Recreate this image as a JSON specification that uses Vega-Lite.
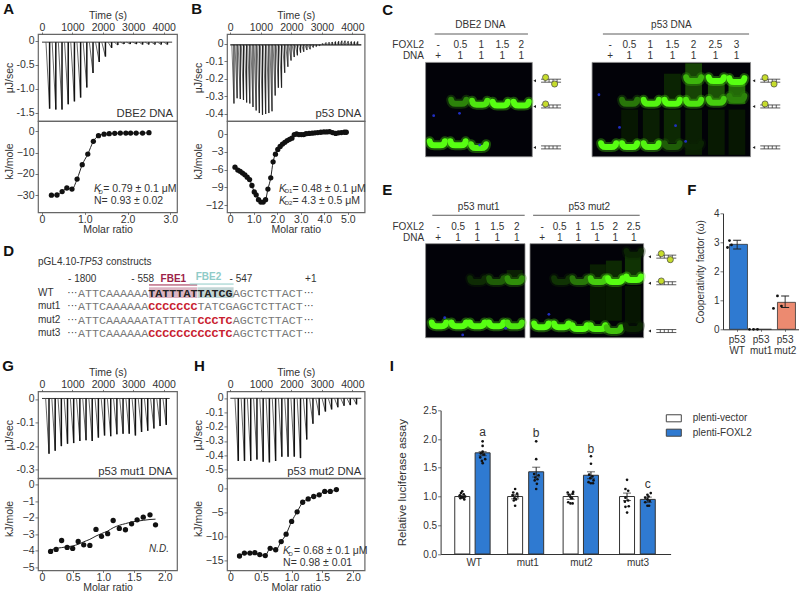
{"$schema":"https://vega.github.io/schema/vega-lite/v6.json","padding":{"left":1,"top":1,"right":0,"bottom":0},"background":"white",
"config":{"view":{"stroke":null},"font":"Liberation Sans","axis":{"domain":false,"grid":false,"tickSize":3,"tickColor":"#555","tickWidth":0.8,"labelFontSize":10.5,"titleFontSize":10.5,"labelColor":"#333","titleColor":"#333","titleFontWeight":"normal","labelPadding":1,"titlePadding":2},"axisTop":{"labelPadding":0,"tickSize":2,"titlePadding":2},"axisBottom":{"labelPadding":0,"tickSize":2,"titlePadding":0},"text":{"color":"#333","fontSize":10}},
"bounds":"flush","spacing":358.3,
"hconcat":[
{"bounds":"flush","spacing":178.7,"vconcat":[
 {"bounds":"flush","spacing":189,"hconcat":[
  {"bounds":"flush","spacing":0,"vconcat":[
   {"width":139,"height":87,"view":{"stroke":"#666","strokeWidth":1.2},
    "data":{"values":[{"t":250,"s":130,"d":-1.41},{"t":454,"s":334,"d":-1.43},{"t":658,"s":538,"d":-1.43},{"t":862,"s":742,"d":-1.32},{"t":1066,"s":946,"d":-1.26},{"t":1270,"s":1150,"d":-1.18},{"t":1474,"s":1354,"d":-0.97},{"t":1678,"s":1558,"d":-0.67},{"t":1882,"s":1762,"d":-0.44},{"t":2086,"s":1966,"d":-0.33},{"t":2290,"s":2170,"d":-0.15},{"t":2494,"s":2374,"d":-0.09},{"t":2698,"s":2578,"d":-0.07},{"t":2902,"s":2782,"d":-0.07},{"t":3106,"s":2986,"d":-0.07},{"t":3310,"s":3190,"d":-0.08},{"t":3514,"s":3394,"d":-0.08},{"t":3718,"s":3598,"d":-0.08},{"t":3922,"s":3802,"d":-0.08},{"t":4126,"s":4006,"d":-0.08}]},
    "encoding":{"x":{"field":"t","type":"quantitative","scale":{"domain":[-132,4440]},"axis":{"orient":"top","title":"Time (s)","values":[0,1000,2000,3000,4000],"format":"d"}},"y":{"field":"d","type":"quantitative","scale":{"domain":[-1.666,0.139]},"axis":{"title":"μJ/sec","titleX":-24,"values":[0,-0.5,-1,-1.5],"labelExpr":"datum.value==0?'0':replace(format(datum.value,'.1f'),'−','-')"}}},
    "layer":[
     {"data":{"values":[{"t":0,"s":4280,"d":-0.03}]},"mark":{"type":"rule","stroke":"#222","strokeWidth":0.9},"encoding":{"x2":{"field":"s"}}},
     {"mark":{"type":"rule","stroke":"#555","strokeWidth":0.9},"encoding":{"x2":{"field":"s"},"y2":{"datum":-0.03}}},
     {"mark":{"type":"rule","stroke":"#111","strokeWidth":1.5},"encoding":{"y2":{"datum":-0.03}}},
     {"data":{"values":[{"t":4309,"d":-1.52,"n":"DBE2 DNA"}]},"mark":{"type":"text","align":"right","fontSize":11.3},"encoding":{"text":{"field":"n"}}},
     {"data":{"values":[{"t":-1273,"d":0.554,"n":"A"}]},"mark":{"type":"text","align":"left","baseline":"alphabetic","fontSize":15,"fontWeight":"bold","color":"#111"},"encoding":{"text":{"field":"n"}}}]},
   {"width":139,"height":91.4,"view":{"stroke":"#666","strokeWidth":1.2},
    "data":{"values":[{"x":0.22,"y":-30.1},{"x":0.35,"y":-30},{"x":0.47,"y":-28.4},{"x":0.58,"y":-26.7},{"x":0.7,"y":-27.2},{"x":0.82,"y":-22.5},{"x":0.94,"y":-15.7},{"x":1.07,"y":-10.7},{"x":1.2,"y":-4.7},{"x":1.32,"y":-2},{"x":1.45,"y":-1.3},{"x":1.57,"y":-1.1},{"x":1.7,"y":-0.9},{"x":1.83,"y":-0.8},{"x":1.96,"y":-0.8},{"x":2.07,"y":-0.8},{"x":2.2,"y":-0.8},{"x":2.35,"y":-0.8},{"x":2.5,"y":-0.6}]},
    "encoding":{"x":{"field":"x","type":"quantitative","scale":{"domain":[-0.094,3.155]},"axis":{"title":"Molar ratio","values":[0,1,2,3],"labelExpr":"datum.value==0?'0':format(datum.value,'.1f')"}},"y":{"field":"y","type":"quantitative","scale":{"domain":[-38.2,4.9]},"axis":{"title":"kJ/mole","titleX":-24,"titleY":40,"values":[0,-10,-20,-30],"format":"d"}}},
    "layer":[
     {"mark":{"type":"line","stroke":"#222","strokeWidth":1,"interpolate":"monotone"}},
     {"mark":{"type":"point","filled":true,"fill":"#111","opacity":1,"size":28}},
     {"data":{"values":[{"x":1.43,"y":-27.2,"n":"= 0.79 ± 0.1 μM"},{"x":1.215,"y":-32.7,"n":"N= 0.93 ± 0.02"}]},"mark":{"type":"text","align":"left","fontSize":10.5},"encoding":{"text":{"field":"n"}}},
     {"data":{"values":[{"x":1.215,"y":-27.2,"n":"K"}]},"mark":{"type":"text","align":"left","fontSize":10.5,"fontStyle":"italic"},"encoding":{"text":{"field":"n"}}},
     {"data":{"values":[{"x":1.32,"y":-28.6,"n":"D"}]},"mark":{"type":"text","align":"left","fontSize":6},"encoding":{"text":{"field":"n"}}}]}]},
  {"bounds":"flush","spacing":0,"vconcat":[
   {"width":137.6,"height":87,"view":{"stroke":"#666","strokeWidth":1.2},
    "data":{"values":[{"t":120,"s":50,"d":-0.34},{"t":224,"s":154,"d":-0.31},{"t":328,"s":258,"d":-0.315},{"t":432,"s":362,"d":-0.32},{"t":536,"s":466,"d":-0.335},{"t":640,"s":570,"d":-0.34},{"t":744,"s":674,"d":-0.36},{"t":848,"s":778,"d":-0.38},{"t":952,"s":882,"d":-0.395},{"t":1056,"s":986,"d":-0.405},{"t":1160,"s":1090,"d":-0.4},{"t":1264,"s":1194,"d":-0.395},{"t":1368,"s":1298,"d":-0.385},{"t":1472,"s":1402,"d":-0.295},{"t":1576,"s":1506,"d":-0.25},{"t":1680,"s":1610,"d":-0.25},{"t":1784,"s":1714,"d":-0.165},{"t":1888,"s":1818,"d":-0.13},{"t":1992,"s":1922,"d":-0.095},{"t":2096,"s":2026,"d":-0.075},{"t":2200,"s":2130,"d":-0.065},{"t":2304,"s":2234,"d":-0.05},{"t":2408,"s":2338,"d":-0.045},{"t":2512,"s":2442,"d":-0.035},{"t":2616,"s":2546,"d":-0.03},{"t":2720,"s":2650,"d":-0.02},{"t":2824,"s":2754,"d":-0.015},{"t":2928,"s":2858,"d":-0.01},{"t":3032,"s":2962,"d":0.003},{"t":3136,"s":3066,"d":0.008},{"t":3240,"s":3170,"d":0.01},{"t":3344,"s":3274,"d":0.012},{"t":3448,"s":3378,"d":0.014},{"t":3552,"s":3482,"d":0.016},{"t":3656,"s":3586,"d":0.018},{"t":3760,"s":3690,"d":0.018},{"t":3864,"s":3794,"d":0.016},{"t":3968,"s":3898,"d":0.014},{"t":4072,"s":4002,"d":0.014},{"t":4176,"s":4106,"d":0.014}]},
    "encoding":{"x":{"field":"t","type":"quantitative","scale":{"domain":[-108,4403]},"axis":{"orient":"top","title":"Time (s)","values":[0,1000,2000,3000,4000],"format":"d"}},"y":{"field":"d","type":"quantitative","scale":{"domain":[-0.44,0.057]},"axis":{"title":"μJ/sec","titleX":-24,"values":[0,-0.1,-0.2,-0.3,-0.4],"labelExpr":"datum.value==0?'0':replace(format(datum.value,'.1f'),'−','-')"}}},
    "layer":[
     {"data":{"values":[{"t":0,"s":4295,"d":-0.005}]},"mark":{"type":"rule","stroke":"#111","strokeWidth":1.2},"encoding":{"x2":{"field":"s"}}},
     {"mark":{"type":"rule","stroke":"#666","strokeWidth":0.9},"encoding":{"x2":{"field":"s"},"y2":{"datum":-0.005}}},
     {"mark":{"type":"rule","stroke":"#222","strokeWidth":1.2},"encoding":{"y2":{"datum":-0.005}}},
     {"data":{"values":[{"t":4295,"d":-0.4,"n":"p53 DNA"}]},"mark":{"type":"text","align":"right","fontSize":11.3},"encoding":{"text":{"field":"n"}}},
     {"data":{"values":[{"t":-1279,"d":0.171,"n":"B"}]},"mark":{"type":"text","align":"left","baseline":"alphabetic","fontSize":15,"fontWeight":"bold","color":"#111"},"encoding":{"text":{"field":"n"}}}]},
   {"width":137.6,"height":91.4,"view":{"stroke":"#666","strokeWidth":1.2},
    "data":{"values":[{"x":0.2,"y":-5.6},{"x":0.32,"y":-6.1},{"x":0.42,"y":-6.3},{"x":0.52,"y":-6.6},{"x":0.62,"y":-6.9},{"x":0.72,"y":-7.3},{"x":0.82,"y":-7.7},{"x":0.92,"y":-8.7},{"x":1.02,"y":-9.8},{"x":1.1,"y":-10.3},{"x":1.2,"y":-11.1},{"x":1.3,"y":-11.5},{"x":1.4,"y":-11.5},{"x":1.5,"y":-11.1},{"x":1.6,"y":-9.3},{"x":1.72,"y":-7.4},{"x":1.82,"y":-4.7},{"x":1.92,"y":-3.4},{"x":2.02,"y":-2.6},{"x":2.12,"y":-2.1},{"x":2.22,"y":-1.7},{"x":2.32,"y":-1.4},{"x":2.42,"y":-1.1},{"x":2.52,"y":-0.9},{"x":2.62,"y":-0.7},{"x":2.72,"y":-0.1},{"x":2.82,"y":0},{"x":2.92,"y":-0.1},{"x":3.02,"y":-0.1},{"x":3.12,"y":-0.1},{"x":3.22,"y":0.05},{"x":3.35,"y":0.1},{"x":3.48,"y":0.15},{"x":3.6,"y":0.2},{"x":3.72,"y":0.25},{"x":3.85,"y":0.3},{"x":3.98,"y":0.35},{"x":4.1,"y":0.35},{"x":4.22,"y":0.4},{"x":4.35,"y":0.25},{"x":4.48,"y":0.1},{"x":4.6,"y":0.2},{"x":4.72,"y":0.25},{"x":4.85,"y":0.3},{"x":4.93,"y":0.3}]},
    "encoding":{"x":{"field":"x","type":"quantitative","scale":{"domain":[-0.14,5.71]},"axis":{"title":"Molar ratio","values":[0,1,2,3,4,5],"labelExpr":"datum.value==0?'0':format(datum.value,'.1f')"}},"y":{"field":"y","type":"quantitative","scale":{"domain":[-13.25,2.2]},"axis":{"title":"kJ/mole","titleX":-24,"titleY":40,"values":[0,-3,-6,-9,-12],"format":"d"}}},
    "layer":[
     {"mark":{"type":"line","stroke":"#222","strokeWidth":1,"interpolate":"monotone"}},
     {"mark":{"type":"point","filled":true,"fill":"#111","opacity":1,"size":28}},
     {"data":{"values":[{"x":2.64,"y":-9.3,"n":"= 0.48 ± 0.1 μM"},{"x":2.64,"y":-11.27,"n":"= 4.3 ± 0.5 μM"}]},"mark":{"type":"text","align":"left","fontSize":10.5},"encoding":{"text":{"field":"n"}}},
     {"data":{"values":[{"x":2.07,"y":-9.3,"n":"K"},{"x":2.07,"y":-11.27,"n":"K"}]},"mark":{"type":"text","align":"left","fontSize":10.5,"fontStyle":"italic"},"encoding":{"text":{"field":"n"}}},
     {"data":{"values":[{"x":2.31,"y":-9.7,"n":"D1"},{"x":2.31,"y":-11.67,"n":"D2"}]},"mark":{"type":"text","align":"left","fontSize":6},"encoding":{"text":{"field":"n"}}}]}]}]},
 {"bounds":"flush","spacing":48.7,"vconcat":[
  {"width":300,"height":130,
   "encoding":{"x":{"field":"p","type":"quantitative","scale":{"domain":[-5.69,36.98]},"axis":null},"y":{"field":"r","type":"quantitative","scale":{"domain":[3.73,-6.02]},"axis":null}},
   "layer":[
    {"data":{"values":[{"p":10.1,"p2":16.95,"r":-0.42,"r2":0.37}]},"mark":{"type":"rect","fill":"#dcb5c3"},"encoding":{"x2":{"field":"p2"},"y2":{"field":"r2"}}},
    {"data":{"values":[{"p":17.0,"p2":22.13,"r":-0.42,"r2":0.37}]},"mark":{"type":"rect","fill":"#c2d6d6"},"encoding":{"x2":{"field":"p2"},"y2":{"field":"r2"}}},
    {"data":{"values":[{"p":10.1,"p2":16.95,"r":-0.6}]},"mark":{"type":"rule","stroke":"#9c2248","strokeWidth":1},"encoding":{"x2":{"field":"p2"}}},
    {"data":{"values":[{"p":15.88,"p2":22.13,"r":-0.67}]},"mark":{"type":"rule","stroke":"#8fcbc7","strokeWidth":1},"encoding":{"x2":{"field":"p2"}}},
    {"data":{"values":[{"p":-10.63,"r":-2.8,"n":"D"}]},"mark":{"type":"text","align":"left","baseline":"alphabetic","fontSize":15,"fontWeight":"bold","color":"#111"},"encoding":{"text":{"field":"n"}}},
    {"data":{"values":[{"p":-5.69,"r":-2.3,"n":"pGL4.10-"},{"p":3.98,"r":-2.3,"n":"constructs"},{"p":-1.42,"r":-1.05,"n":"- 1800"},{"p":7.58,"r":-1.05,"n":"- 558"},{"p":21.56,"r":-1.05,"n":"- 547"},{"p":32.3,"r":-1.05,"n":"+1"},{"p":-5.69,"r":0,"n":"WT"},{"p":-5.69,"r":1,"n":"mut1"},{"p":-5.69,"r":2,"n":"mut2"},{"p":-5.69,"r":3,"n":"mut3"},{"p":-1.52,"r":0,"n":"···"},{"p":-1.52,"r":1,"n":"···"},{"p":-1.52,"r":2,"n":"···"},{"p":-1.52,"r":3,"n":"···"},{"p":32.1,"r":0,"n":"···"},{"p":32.1,"r":1,"n":"···"},{"p":32.1,"r":2,"n":"···"},{"p":32.1,"r":3,"n":"···"}]},"mark":{"type":"text","align":"left","fontSize":10},"encoding":{"text":{"field":"n"}}},
    {"data":{"values":[{"p":0.1,"r":-2.3,"n":"TP53"}]},"mark":{"type":"text","align":"left","fontSize":10,"fontStyle":"italic"},"encoding":{"text":{"field":"n"}}},
    {"data":{"values":[{"p":11.75,"r":-1.05,"n":"FBE1"}]},"mark":{"type":"text","align":"left","fontSize":10,"fontWeight":"bold","color":"#9c2248"},"encoding":{"text":{"field":"n"}}},
    {"data":{"values":[{"p":16.73,"r":-1.17,"n":"FBE2"}]},"mark":{"type":"text","align":"left","fontSize":10,"fontWeight":"bold","color":"#8fcbc7"},"encoding":{"text":{"field":"n"}}},
    {"data":{"values":[{"p":0,"r":0,"n":"ATTCAAAAAA"},{"p":22,"r":0,"n":"AGCTCTTACT"},{"p":0,"r":1,"n":"ATTCAAAAAA"},{"p":17,"r":1,"n":"TATCGAGCTCTTACT"},{"p":0,"r":2,"n":"ATTCAAAAAATATTTAT"},{"p":22,"r":2,"n":"AGCTCTTACT"},{"p":0,"r":3,"n":"ATTCAAAAAA"},{"p":22,"r":3,"n":"AGCTCTTACT"}]},"mark":{"type":"text","align":"left","font":"Liberation Mono","fontSize":11.7,"color":"#777"},"encoding":{"text":{"field":"n"}}},
    {"data":{"values":[{"p":10,"r":0,"n":"TATTTATTATCG"}]},"mark":{"type":"text","align":"left","font":"Liberation Mono","fontWeight":"bold","fontSize":11.7,"color":"#222"},"encoding":{"text":{"field":"n"}}},
    {"data":{"values":[{"p":10,"r":1,"n":"CCCCCCC"},{"p":17,"r":2,"n":"CCCTC"},{"p":10,"r":3,"n":"CCCCCCCCCCTC"}]},"mark":{"type":"text","align":"left","font":"Liberation Mono","fontWeight":"bold","fontSize":11.7,"color":"#c8202f"},"encoding":{"text":{"field":"n"}}}]},
  {"bounds":"flush","spacing":189,"hconcat":[
   {"bounds":"flush","spacing":0,"vconcat":[
    {"width":139,"height":86.6,"view":{"stroke":"#666","strokeWidth":1.2},
     "data":{"values":[{"t":230,"s":120,"d":-0.232},{"t":433,"s":323,"d":-0.22},{"t":636,"s":526,"d":-0.2},{"t":839,"s":729,"d":-0.19},{"t":1042,"s":932,"d":-0.187},{"t":1245,"s":1135,"d":-0.178},{"t":1448,"s":1338,"d":-0.175},{"t":1651,"s":1541,"d":-0.178},{"t":1854,"s":1744,"d":-0.164},{"t":2057,"s":1947,"d":-0.155},{"t":2260,"s":2150,"d":-0.158},{"t":2463,"s":2353,"d":-0.15},{"t":2666,"s":2556,"d":-0.148},{"t":2869,"s":2759,"d":-0.147},{"t":3072,"s":2962,"d":-0.155},{"t":3275,"s":3165,"d":-0.14},{"t":3478,"s":3368,"d":-0.135},{"t":3681,"s":3571,"d":-0.125},{"t":3884,"s":3774,"d":-0.115},{"t":4087,"s":3977,"d":-0.11}]},
     "encoding":{"x":{"field":"t","type":"quantitative","scale":{"domain":[-132,4440]},"axis":{"orient":"top","title":"Time (s)","values":[0,1000,2000,3000,4000],"format":"d"}},"y":{"field":"d","type":"quantitative","scale":{"domain":[-0.335,0.032]},"axis":{"title":"μJ/sec","titleX":-24,"values":[0,-0.1,-0.2,-0.3],"labelExpr":"datum.value==0?'0':replace(format(datum.value,'.1f'),'−','-')"}}},
     "layer":[
      {"data":{"values":[{"t":0,"s":4200,"d":0.002}]},"mark":{"type":"rule","stroke":"#222","strokeWidth":0.9},"encoding":{"x2":{"field":"s"}}},
      {"mark":{"type":"rule","stroke":"#555","strokeWidth":0.9},"encoding":{"x2":{"field":"s"},"y2":{"datum":0.002}}},
      {"mark":{"type":"rule","stroke":"#111","strokeWidth":1.5},"encoding":{"y2":{"datum":0.002}}},
      {"data":{"values":[{"t":4286,"d":-0.308,"n":"p53 mut1 DNA"}]},"mark":{"type":"text","align":"right","fontSize":11.3},"encoding":{"text":{"field":"n"}}},
      {"data":{"values":[{"t":-1306,"d":0.12,"n":"G"}]},"mark":{"type":"text","align":"left","baseline":"alphabetic","fontSize":15,"fontWeight":"bold","color":"#111"},"encoding":{"text":{"field":"n"}}}]},
    {"width":139,"height":92,"view":{"stroke":"#666","strokeWidth":1.2},
     "data":{"values":[{"x":0.14,"y":-4.03,"f":-3.95},{"x":0.23,"y":-3.91,"f":-3.85},{"x":0.32,"y":-3.37,"f":-3.8},{"x":0.41,"y":-3.79,"f":-3.75},{"x":0.5,"y":-3.85,"f":-3.7},{"x":0.59,"y":-3.43,"f":-3.6},{"x":0.68,"y":-3.63,"f":-3.45},{"x":0.78,"y":-3.67,"f":-3.3},{"x":0.88,"y":-2.7,"f":-3.1},{"x":0.97,"y":-3.12,"f":-2.95},{"x":1.07,"y":-2.96,"f":-2.8},{"x":1.16,"y":-2.16,"f":-2.6},{"x":1.26,"y":-2.64,"f":-2.45},{"x":1.36,"y":-2.72,"f":-2.35},{"x":1.46,"y":-2.36,"f":-2.25},{"x":1.55,"y":-2.12,"f":-2.2},{"x":1.65,"y":-1.96,"f":-2.15},{"x":1.76,"y":-1.82,"f":-2.1},{"x":1.85,"y":-2.42,"f":-2.08}]},
     "encoding":{"x":{"field":"x","type":"quantitative","scale":{"domain":[-0.065,2.2]},"axis":{"title":"Molar ratio","values":[0,0.5,1,1.5,2],"labelExpr":"datum.value==0?'0':format(datum.value,'.1f')"}},"y":{"field":"y","type":"quantitative","scale":{"domain":[-5.18,0.387]},"axis":{"title":"kJ/mole","titleX":-24,"titleY":40,"values":[0,-1,-2,-3,-4,-5],"format":"d"}}},
     "layer":[
      {"mark":{"type":"line","stroke":"#222","strokeWidth":1,"interpolate":"monotone"},"encoding":{"y":{"field":"f","type":"quantitative","scale":{"domain":[-5.18,0.387]}}}},
      {"mark":{"type":"point","filled":true,"fill":"#111","opacity":1,"size":28}},
      {"data":{"values":[{"x":2.07,"y":-3.9,"n":"N.D."}]},"mark":{"type":"text","align":"right","fontSize":10,"fontStyle":"italic"},"encoding":{"text":{"field":"n"}}}]}]},
   {"bounds":"flush","spacing":0,"vconcat":[
    {"width":137.6,"height":86.6,"view":{"stroke":"#666","strokeWidth":1.2},
     "data":{"values":[{"t":262,"s":152,"d":-0.44},{"t":466,"s":356,"d":-0.44},{"t":670,"s":560,"d":-0.44},{"t":874,"s":764,"d":-0.43},{"t":1078,"s":968,"d":-0.445},{"t":1282,"s":1172,"d":-0.45},{"t":1486,"s":1376,"d":-0.44},{"t":1690,"s":1580,"d":-0.41},{"t":1894,"s":1784,"d":-0.41},{"t":2098,"s":1988,"d":-0.41},{"t":2302,"s":2192,"d":-0.42},{"t":2506,"s":2396,"d":-0.29},{"t":2710,"s":2600,"d":-0.18},{"t":2914,"s":2804,"d":-0.12},{"t":3118,"s":3008,"d":-0.095},{"t":3322,"s":3212,"d":-0.08},{"t":3526,"s":3416,"d":-0.065},{"t":3730,"s":3620,"d":-0.055},{"t":3934,"s":3824,"d":-0.05},{"t":4138,"s":4028,"d":-0.045}]},
     "encoding":{"x":{"field":"t","type":"quantitative","scale":{"domain":[-108,4403]},"axis":{"orient":"top","title":"Time (s)","values":[0,1000,2000,3000,4000],"format":"d"}},"y":{"field":"d","type":"quantitative","scale":{"domain":[-0.559,0.046]},"axis":{"title":"μJ/sec","titleX":-24,"values":[0,-0.1,-0.2,-0.3,-0.4,-0.5],"labelExpr":"datum.value==0?'0':replace(format(datum.value,'.1f'),'−','-')"}}},
     "layer":[
      {"data":{"values":[{"t":0,"s":4295,"d":-0.002}]},"mark":{"type":"rule","stroke":"#222","strokeWidth":0.9},"encoding":{"x2":{"field":"s"}}},
      {"mark":{"type":"rule","stroke":"#555","strokeWidth":0.9},"encoding":{"x2":{"field":"s"},"y2":{"datum":-0.002}}},
      {"mark":{"type":"rule","stroke":"#111","strokeWidth":1.5},"encoding":{"y2":{"datum":-0.002}}},
      {"data":{"values":[{"t":4295,"d":-0.515,"n":"p53 mut2 DNA"}]},"mark":{"type":"text","align":"right","fontSize":11.3},"encoding":{"text":{"field":"n"}}},
      {"data":{"values":[{"t":-1190,"d":0.191,"n":"H"}]},"mark":{"type":"text","align":"left","baseline":"alphabetic","fontSize":15,"fontWeight":"bold","color":"#111"},"encoding":{"text":{"field":"n"}}}]},
    {"width":137.6,"height":92,"view":{"stroke":"#666","strokeWidth":1.2},
     "data":{"values":[{"x":0.15,"y":-14},{"x":0.23,"y":-13.4},{"x":0.32,"y":-13.4},{"x":0.4,"y":-13.3},{"x":0.48,"y":-13.7},{"x":0.57,"y":-13.9},{"x":0.65,"y":-12.4},{"x":0.74,"y":-12.7},{"x":0.83,"y":-11},{"x":0.91,"y":-9.45},{"x":1,"y":-6.8},{"x":1.09,"y":-4.8},{"x":1.18,"y":-2.8},{"x":1.27,"y":-2.1},{"x":1.36,"y":-1.6},{"x":1.45,"y":-1.25},{"x":1.54,"y":-0.55},{"x":1.63,"y":-0.55},{"x":1.73,"y":-0.15}]},
     "encoding":{"x":{"field":"x","type":"quantitative","scale":{"domain":[-0.054,2.19]},"axis":{"title":"Molar ratio","values":[0,0.5,1,1.5,2],"labelExpr":"datum.value==0?'0':format(datum.value,'.1f')"}},"y":{"field":"y","type":"quantitative","scale":{"domain":[-17,2.17]},"axis":{"title":"kJ/mole","titleX":-24,"titleY":40,"values":[0,-5,-10,-15],"format":"d"}}},
     "layer":[
      {"mark":{"type":"line","stroke":"#222","strokeWidth":1,"interpolate":"monotone"}},
      {"mark":{"type":"point","filled":true,"fill":"#111","opacity":1,"size":28}},
      {"data":{"values":[{"x":1.04,"y":-13,"n":"= 0.68 ± 0.1 μM"},{"x":0.86,"y":-15.4,"n":"N= 0.98 ± 0.01"}]},"mark":{"type":"text","align":"left","fontSize":10.5},"encoding":{"text":{"field":"n"}}},
      {"data":{"values":[{"x":0.86,"y":-13,"n":"K"}]},"mark":{"type":"text","align":"left","fontSize":10.5,"fontStyle":"italic"},"encoding":{"text":{"field":"n"}}},
      {"data":{"values":[{"x":0.95,"y":-13.6,"n":"D"}]},"mark":{"type":"text","align":"left","fontSize":6},"encoding":{"text":{"field":"n"}}}]}]}]}]}]},
{"bounds":"flush","spacing":52.3,"vconcat":[
 {"width":404,"height":126.7,
  "encoding":{"x":{"field":"x","type":"quantitative","scale":{"domain":[0,19.24]},"axis":null},"y":{"field":"y","type":"quantitative","scale":{"domain":[104.2,-30.1]},"axis":null}},
  "layer":[
   {"data":{"values":[{"x":1.395,"x2":6.476,"y":0,"y2":100},{"x":9.324,"x2":16.87,"y":0,"y2":100}]},"mark":{"type":"rect","fill":"#020208","stroke":"#8a8a8a","strokeWidth":0.8},"encoding":{"x2":{"field":"x2"},"y2":{"field":"y2"}}},
   {"data":{"values":[{"x":12.75,"x2":13.55,"y":12,"y2":40,"i":0.12},{"x":13.76,"x2":14.56,"y":1,"y2":42,"i":0.25},{"x":14.84,"x2":15.64,"y":22,"y2":42,"i":0.3},{"x":15.82,"x2":16.62,"y":22,"y2":44,"i":0.4},{"x":10.71,"x2":11.51,"y":50,"y2":85,"i":0.07},{"x":11.74,"x2":12.54,"y":50,"y2":85,"i":0.1},{"x":12.74,"x2":13.54,"y":50,"y2":85,"i":0.14},{"x":13.76,"x2":14.56,"y":50,"y2":98,"i":0.1},{"x":14.84,"x2":15.64,"y":50,"y2":98,"i":0.08},{"x":15.82,"x2":16.62,"y":50,"y2":98,"i":0.07}]},"mark":{"type":"rect"},"encoding":{"x2":{"field":"x2"},"y2":{"field":"y2"},"color":{"field":"i","type":"quantitative","scale":{"domain":[0,1],"range":["#010601","#57ff12"],"interpolate":"rgb"},"legend":null}}},
   {"data":{"name":"bandsC","values":[{"x":1.95,"y":87,"i":1},{"x":2.94,"y":87,"i":1},{"x":3.92,"y":90,"i":0.95},{"x":2.97,"y":43,"i":0.5},{"x":3.97,"y":44,"i":0.9},{"x":4.95,"y":45,"i":1},{"x":5.95,"y":45,"i":1},{"x":10.11,"y":89,"i":1},{"x":11.11,"y":89,"i":1},{"x":12.14,"y":89,"i":0.95},{"x":13.14,"y":89,"i":0.35},{"x":14.16,"y":89,"i":0.12},{"x":11.11,"y":43,"i":0.45},{"x":12.14,"y":43,"i":0.95},{"x":13.14,"y":43,"i":1},{"x":14.16,"y":43,"i":0.9},{"x":15.24,"y":42,"i":0.8},{"x":16.22,"y":39,"i":0.5},{"x":14.16,"y":19,"i":0.7},{"x":15.24,"y":19,"i":1},{"x":16.22,"y":20,"i":1}]},"mark":{"type":"point","filled":false,"shape":"M-1,-0.42C-0.95,0 -0.7,0.1 -0.4,0.1L0.4,0.1C0.7,0.1 0.95,0 1,-0.42","size":225,"strokeWidth":10,"opacity":0.3,"strokeCap":"round"},"encoding":{"color":{"field":"i","type":"quantitative","scale":{"domain":[0,1],"range":["#010601","#57ff12"],"interpolate":"rgb"},"legend":null}}},
   {"data":{"name":"bandsC"},"mark":{"type":"point","filled":false,"shape":"M-1,-0.42C-0.95,0 -0.7,0.1 -0.4,0.1L0.4,0.1C0.7,0.1 0.95,0 1,-0.42","size":225,"strokeWidth":6,"opacity":1,"strokeCap":"round"},"encoding":{"color":{"field":"i","type":"quantitative","scale":{"domain":[0,1],"range":["#010601","#57ff12"],"interpolate":"rgb"},"legend":null}}},
   {"data":{"values":[{"x":1.78,"y":56.5},{"x":3.01,"y":54},{"x":3.97,"y":87.6},{"x":9.65,"y":34.3},{"x":10.63,"y":68.9},{"x":13.3,"y":67.1},{"x":13.78,"y":83.8}]},"mark":{"type":"point","filled":true,"fill":"#2433d8","opacity":0.9,"size":8}},
   {"data":{"values":[{"x":7.37,"y":19.4},{"x":7.37,"y":46.7},{"x":7.37,"y":90.1},{"x":17.81,"y":19.4},{"x":17.81,"y":46.7},{"x":17.81,"y":90.1}]},"mark":{"type":"point","filled":false,"stroke":"#333","strokeWidth":0.8,"opacity":1,"size":400,"shape":"M-1,-0.15H1M-1,0.15H1M-0.6,-0.15V0.15M-0.2,-0.15V0.15M0.2,-0.15V0.15M0.6,-0.15V0.15"}},
   {"data":{"values":[{"x":6.59,"y":19.4},{"x":6.59,"y":46.7},{"x":6.59,"y":90.1},{"x":17.03,"y":19.4},{"x":17.03,"y":46.7},{"x":17.03,"y":90.1}]},"mark":{"type":"point","filled":true,"fill":"#222","opacity":1,"size":9,"shape":"triangle-left"}},
   {"data":{"values":[{"x":7.11,"y":15.9},{"x":7.54,"y":22.9},{"x":7.11,"y":44.1},{"x":17.56,"y":16.2},{"x":17.99,"y":22.9},{"x":17.56,"y":44.1}]},"mark":{"type":"point","filled":true,"fill":"#c6dc2c","stroke":"#444","strokeWidth":0.7,"opacity":1,"size":38}},
   {"data":{"values":[{"x":1.825,"x2":6.27,"y":-30.1},{"x":9.84,"x2":16.8,"y":-30.1}]},"mark":{"type":"rule","stroke":"#333","strokeWidth":0.8},"encoding":{"x2":{"field":"x2"}}},
   {"data":{"values":[{"x":-0.667,"y":-50.6,"n":"C"}]},"mark":{"type":"text","align":"left","baseline":"alphabetic","fontSize":15,"fontWeight":"bold","color":"#111"},"encoding":{"text":{"field":"n"}}},
   {"data":{"values":[{"x":1.32,"y":-18.8,"n":"FOXL2"},{"x":1.32,"y":-7.1,"n":"DNA"}]},"mark":{"type":"text","align":"right","fontSize":10},"encoding":{"text":{"field":"n"}}},
   {"data":{"values":[{"x":4.0,"y":-40,"n":"DBE2 DNA"},{"x":13.1,"y":-40,"n":"p53 DNA"},{"x":1.99,"y":-18.8,"n":"-"},{"x":3.05,"y":-18.8,"n":"0.5"},{"x":4.05,"y":-18.8,"n":"1"},{"x":5.05,"y":-18.8,"n":"1.5"},{"x":5.95,"y":-18.8,"n":"2"},{"x":1.99,"y":-7.1,"n":"+"},{"x":3.05,"y":-7.1,"n":"1"},{"x":4.05,"y":-7.1,"n":"1"},{"x":5.05,"y":-7.1,"n":"1"},{"x":5.95,"y":-7.1,"n":"1"},{"x":10.19,"y":-18.8,"n":"-"},{"x":11.1,"y":-18.8,"n":"0.5"},{"x":12.1,"y":-18.8,"n":"1"},{"x":13.15,"y":-18.8,"n":"1.5"},{"x":14.15,"y":-18.8,"n":"2"},{"x":15.2,"y":-18.8,"n":"2.5"},{"x":16.2,"y":-18.8,"n":"3"},{"x":10.19,"y":-7.1,"n":"+"},{"x":11.1,"y":-7.1,"n":"1"},{"x":12.1,"y":-7.1,"n":"1"},{"x":13.15,"y":-7.1,"n":"1"},{"x":14.15,"y":-7.1,"n":"1"},{"x":15.2,"y":-7.1,"n":"1"},{"x":16.2,"y":-7.1,"n":"1"}]},"mark":{"type":"text","fontSize":10},"encoding":{"text":{"field":"n"}}}]},
 {"bounds":"flush","spacing":197,"vconcat":[
  {"bounds":"flush","spacing":41.7,"hconcat":[
   {"width":285,"height":127.7,
    "encoding":{"x":{"field":"x","type":"quantitative","scale":{"domain":[0,14.25]},"axis":null},"y":{"field":"y","type":"quantitative","scale":{"domain":[103.5,-32.3]},"axis":null}},
    "layer":[
     {"data":{"values":[{"x":1.465,"x2":6.435,"y":0,"y2":100},{"x":6.685,"x2":12.365,"y":0,"y2":100}]},"mark":{"type":"rect","fill":"#020208","stroke":"#8a8a8a","strokeWidth":0.8},"encoding":{"x2":{"field":"x2"},"y2":{"field":"y2"}}},
     {"data":{"values":[{"x":5.52,"x2":6.32,"y":28,"y2":40,"i":0.1},{"x":9.68,"x2":10.48,"y":22,"y2":38,"i":0.1},{"x":10.48,"x2":11.28,"y":18,"y2":38,"i":0.14},{"x":11.43,"x2":12.23,"y":12,"y2":38,"i":0.18},{"x":9.68,"x2":10.48,"y":45,"y2":82,"i":0.07},{"x":10.48,"x2":11.28,"y":45,"y2":82,"i":0.08},{"x":11.43,"x2":12.23,"y":45,"y2":85,"i":0.06}]},"mark":{"type":"rect"},"encoding":{"x2":{"field":"x2"},"y2":{"field":"y2"},"color":{"field":"i","type":"quantitative","scale":{"domain":[0,1],"range":["#010601","#57ff12"],"interpolate":"rgb"},"legend":null}}},
     {"data":{"name":"bandsE","values":[{"x":2.13,"y":87,"i":1},{"x":3.12,"y":87,"i":1},{"x":4.05,"y":87,"i":1},{"x":5,"y":87,"i":1},{"x":5.92,"y":87,"i":0.9},{"x":7.25,"y":88,"i":1},{"x":8.25,"y":88,"i":1},{"x":9.17,"y":90,"i":1},{"x":10.08,"y":90,"i":0.95},{"x":10.88,"y":92,"i":0.75},{"x":11.83,"y":90,"i":0.12},{"x":4.05,"y":40,"i":0.15},{"x":5,"y":40,"i":0.35},{"x":5.92,"y":40,"i":0.55},{"x":8.25,"y":40,"i":0.18},{"x":9.17,"y":40,"i":0.45},{"x":10.08,"y":40,"i":0.8},{"x":10.95,"y":40,"i":1},{"x":11.87,"y":38,"i":1},{"x":11.87,"y":11,"i":0.12}]},"mark":{"type":"point","filled":false,"shape":"M-1,-0.42C-0.95,0 -0.7,0.1 -0.4,0.1L0.4,0.1C0.7,0.1 0.95,0 1,-0.42","size":205,"strokeWidth":10,"opacity":0.3,"strokeCap":"round"},"encoding":{"color":{"field":"i","type":"quantitative","scale":{"domain":[0,1],"range":["#010601","#57ff12"],"interpolate":"rgb"},"legend":null}}},
     {"data":{"name":"bandsE"},"mark":{"type":"point","filled":false,"shape":"M-1,-0.42C-0.95,0 -0.7,0.1 -0.4,0.1L0.4,0.1C0.7,0.1 0.95,0 1,-0.42","size":205,"strokeWidth":6,"opacity":1,"strokeCap":"round"},"encoding":{"color":{"field":"i","type":"quantitative","scale":{"domain":[0,1],"range":["#010601","#57ff12"],"interpolate":"rgb"},"legend":null}}},
     {"data":{"values":[{"x":7.63,"y":75.1},{"x":2.42,"y":78.7},{"x":5.47,"y":90},{"x":3.32,"y":97}]},"mark":{"type":"point","filled":true,"fill":"#2433d8","opacity":0.9,"size":8}},
     {"data":{"values":[{"x":13.5,"y":13.8},{"x":13.5,"y":42.1},{"x":13.5,"y":92.9}]},"mark":{"type":"point","filled":false,"stroke":"#333","strokeWidth":0.8,"opacity":1,"size":400,"shape":"M-1,-0.15H1M-1,0.15H1M-0.6,-0.15V0.15M-0.2,-0.15V0.15M0.2,-0.15V0.15M0.6,-0.15V0.15"}},
     {"data":{"values":[{"x":12.67,"y":13.8},{"x":12.67,"y":42.1},{"x":12.67,"y":92.9}]},"mark":{"type":"point","filled":true,"fill":"#222","opacity":1,"size":9,"shape":"triangle-left"}},
     {"data":{"values":[{"x":13.25,"y":10.6},{"x":13.7,"y":17},{"x":13.25,"y":39.7}]},"mark":{"type":"point","filled":true,"fill":"#c6dc2c","stroke":"#444","strokeWidth":0.7,"opacity":1,"size":38}},
     {"data":{"values":[{"x":1.8,"x2":6.42,"y":-30.2},{"x":6.84,"x2":12.17,"y":-30.2}]},"mark":{"type":"rule","stroke":"#333","strokeWidth":0.8},"encoding":{"x2":{"field":"x2"}}},
     {"data":{"values":[{"x":-0.7,"y":-51.5,"n":"E"},{"x":14.55,"y":-51.5,"n":"F"}]},"mark":{"type":"text","align":"left","baseline":"alphabetic","fontSize":15,"fontWeight":"bold","color":"#111"},"encoding":{"text":{"field":"n"}}},
     {"data":{"values":[{"x":1.39,"y":-18.1,"n":"FOXL2"},{"x":1.39,"y":-6.4,"n":"DNA"}]},"mark":{"type":"text","align":"right","fontSize":10},"encoding":{"text":{"field":"n"}}},
     {"data":{"values":[{"x":4.12,"y":-39.4,"n":"p53 mut1"},{"x":9.65,"y":-39.4,"n":"p53 mut2"},{"x":2.09,"y":-18.1,"n":"-"},{"x":3.09,"y":-18.1,"n":"0.5"},{"x":4.05,"y":-18.1,"n":"1"},{"x":5.05,"y":-18.1,"n":"1.5"},{"x":6.02,"y":-18.1,"n":"2"},{"x":2.09,"y":-6.4,"n":"+"},{"x":3.09,"y":-6.4,"n":"1"},{"x":4.05,"y":-6.4,"n":"1"},{"x":5.05,"y":-6.4,"n":"1"},{"x":6.02,"y":-6.4,"n":"1"},{"x":7.29,"y":-18.1,"n":"-"},{"x":8.17,"y":-18.1,"n":"0.5"},{"x":9.1,"y":-18.1,"n":"1"},{"x":10.04,"y":-18.1,"n":"1.5"},{"x":10.95,"y":-18.1,"n":"2"},{"x":11.87,"y":-18.1,"n":"2.5"},{"x":7.29,"y":-6.4,"n":"+"},{"x":8.17,"y":-6.4,"n":"1"},{"x":9.1,"y":-6.4,"n":"1"},{"x":10.04,"y":-6.4,"n":"1"},{"x":10.95,"y":-6.4,"n":"1"},{"x":11.87,"y":-6.4,"n":"1"}]},"mark":{"type":"text","fontSize":10},"encoding":{"text":{"field":"n"}}}]},
   {"width":76.3,"height":116,
    "encoding":{"x":{"field":"g","type":"nominal","sort":["p53 WT","p53 mut1","p53 mut2"],"scale":{"domain":["p53 WT","p53 mut1","p53 mut2"],"paddingInner":0.36,"paddingOuter":0.27},"axis":{"title":null,"domain":true,"domainColor":"#333","labelAngle":0,"labelFontSize":10,"labelExpr":"split(datum.label,' ')","labelPadding":3,"labelLineHeight":11.5}},"y":{"field":"v","type":"quantitative","scale":{"domain":[0,4]},"axis":{"title":"Cooperativity factor (ω)","titleFontSize":10,"titleX":-17.5,"domain":true,"domainColor":"#333","values":[0,1,2,3,4],"format":"d","labelFontSize":10}}},
    "layer":[
     {"data":{"values":[{"g":"p53 WT","v":2.93},{"g":"p53 mut1","v":0},{"g":"p53 mut2","v":0.93}]},"mark":{"type":"bar","stroke":"#333","strokeWidth":0.8},"encoding":{"color":{"field":"g","type":"nominal","scale":{"domain":["p53 WT","p53 mut1","p53 mut2"],"range":["#2f7ad1","#888888","#ec8a70"]},"legend":null}}},
     {"data":{"values":[{"g":"p53 WT","v":2.77,"u":3.07},{"g":"p53 mut2","v":0.75,"u":1.15}]},"mark":{"type":"rule","stroke":"#222","strokeWidth":0.9},"encoding":{"y2":{"field":"u"}}},
     {"data":{"values":[{"g":"p53 WT","v":2.77},{"g":"p53 WT","v":3.07},{"g":"p53 mut2","v":0.75},{"g":"p53 mut2","v":1.15}]},"mark":{"type":"tick","size":8,"thickness":0.9,"color":"#222","opacity":1}},
     {"data":{"values":[{"g":"p53 WT","v":3.06,"j":0},{"g":"p53 WT","v":2.91,"j":1},{"g":"p53 WT","v":2.82,"j":-1},{"g":"p53 mut1","v":0,"j":-2},{"g":"p53 mut1","v":0,"j":0},{"g":"p53 mut1","v":0,"j":2},{"g":"p53 mut2","v":1.15,"j":0},{"g":"p53 mut2","v":0.8,"j":2},{"g":"p53 mut2","v":0.72,"j":-2}]},"mark":{"type":"point","filled":true,"fill":"#111","opacity":1,"size":8},"encoding":{"xOffset":{"field":"j","type":"quantitative","scale":{"domain":[-2,2],"range":[-4,4]}}}}]}]},
  {"bounds":"flush","spacing":43.3,"hconcat":[
   {"width":1,"height":1,"data":{"values":[]},"mark":"point","encoding":{}},
   {"width":230,"height":143.7,
    "encoding":{"x":{"field":"x","type":"quantitative","scale":{"domain":[0.5,4.5]},"axis":{"title":null,"domain":true,"domainColor":"#333","values":[1.01,1.985,2.96,3.99],"ticks":false,"labelFontSize":10,"labelPadding":3.5,"labelExpr":"datum.value<1.5?'WT':datum.value<2.5?'mut1':datum.value<3.5?'mut2':'mut3'"}},"y":{"field":"y","type":"quantitative","scale":{"domain":[0,2.5]},"axis":{"title":"Relative luciferase assay","titleFontSize":11.5,"titleX":-33,"domain":true,"domainColor":"#333","values":[0,0.5,1,1.5,2,2.5],"format":".1f","labelFontSize":10}}},
    "layer":[
     {"data":{"values":[{"x":1.463},{"x":2.477},{"x":3.491}]},"mark":{"type":"rule","stroke":"#8aa3b5","strokeWidth":1,"strokeDash":[4,4]}},
     {"data":{"values":[{"x":0.803,"y":1,"c":"plenti-vector"},{"x":1.173,"y":1.76,"c":"plenti-FOXL2"},{"x":1.764,"y":1,"c":"plenti-vector"},{"x":2.147,"y":1.43,"c":"plenti-FOXL2"},{"x":2.773,"y":1,"c":"plenti-vector"},{"x":3.143,"y":1.37,"c":"plenti-FOXL2"},{"x":3.799,"y":1,"c":"plenti-vector"},{"x":4.176,"y":0.95,"c":"plenti-FOXL2"}]},"mark":{"type":"bar","size":15,"orient":"vertical","stroke":"#333","strokeWidth":1},"encoding":{"color":{"field":"c","type":"nominal","scale":{"domain":["plenti-vector","plenti-FOXL2"],"range":["#ffffff","#2f7ad1"]},"legend":{"title":null,"orient":"none","legendX":269.5,"legendY":197,"symbolType":"M-1,-0.47H1V0.47H-1Z","symbolSize":225,"symbolStrokeColor":"#444","symbolStrokeWidth":1,"labelFontSize":10,"labelColor":"#333","rowPadding":0.4,"labelOffset":11}}}},
     {"data":{"values":[{"x":0.803,"y":0.985,"u":1.015},{"x":1.173,"y":1.71,"u":1.78},{"x":1.764,"y":0.96,"u":1.03},{"x":2.147,"y":1.34,"u":1.51},{"x":2.773,"y":0.95,"u":1.04},{"x":3.143,"y":1.31,"u":1.43},{"x":3.799,"y":0.93,"u":1.06},{"x":4.176,"y":0.9,"u":0.99}]},"mark":{"type":"errorbar","orient":"vertical","ticks":{"size":8,"color":"#222"},"rule":{"stroke":"#222"}},"encoding":{"y2":{"field":"u"}}},
     {"data":{"values":[{"x":0.803,"y":1.09},{"x":0.78,"y":1.06},{"x":0.83,"y":1.04},{"x":0.76,"y":1.02},{"x":0.85,"y":1.0},{"x":0.79,"y":0.99},{"x":0.82,"y":0.98},{"x":0.77,"y":0.97},{"x":0.84,"y":0.95},{"x":1.173,"y":1.96},{"x":1.173,"y":1.88},{"x":1.173,"y":1.78},{"x":1.14,"y":1.75},{"x":1.2,"y":1.73},{"x":1.13,"y":1.68},{"x":1.22,"y":1.65},{"x":1.16,"y":1.62},{"x":1.175,"y":1.58},{"x":1.764,"y":1.13},{"x":1.73,"y":1.07},{"x":1.8,"y":1.05},{"x":1.72,"y":1.02},{"x":1.81,"y":1.0},{"x":1.75,"y":0.97},{"x":1.78,"y":0.95},{"x":1.74,"y":0.93},{"x":1.764,"y":0.84},{"x":2.147,"y":1.96},{"x":2.147,"y":1.65},{"x":2.11,"y":1.39},{"x":2.19,"y":1.37},{"x":2.13,"y":1.33},{"x":2.17,"y":1.3},{"x":2.12,"y":1.28},{"x":2.16,"y":1.22},{"x":2.147,"y":1.13},{"x":2.82,"y":1.08},{"x":2.72,"y":1.07},{"x":2.81,"y":1.05},{"x":2.74,"y":1.03},{"x":2.77,"y":0.99},{"x":2.8,"y":0.97},{"x":2.73,"y":0.9},{"x":2.77,"y":0.88},{"x":2.81,"y":0.88},{"x":3.143,"y":1.7},{"x":3.143,"y":1.57},{"x":3.11,"y":1.38},{"x":3.17,"y":1.35},{"x":3.13,"y":1.32},{"x":3.19,"y":1.28},{"x":3.1,"y":1.25},{"x":3.14,"y":1.23},{"x":3.18,"y":1.23},{"x":3.799,"y":1.29},{"x":3.77,"y":1.13},{"x":3.82,"y":1.1},{"x":3.77,"y":0.98},{"x":3.82,"y":0.93},{"x":3.76,"y":0.91},{"x":3.83,"y":0.83},{"x":3.77,"y":0.82},{"x":3.8,"y":0.72},{"x":4.23,"y":1.06},{"x":4.17,"y":1.03},{"x":4.19,"y":1.0},{"x":4.13,"y":0.98},{"x":4.17,"y":0.95},{"x":4.21,"y":0.92},{"x":4.13,"y":0.9},{"x":4.17,"y":0.84},{"x":4.2,"y":0.84}]},"mark":{"type":"point","filled":true,"fill":"#111","opacity":1,"size":7}},
     {"data":{"values":[{"x":-0.514,"y":3.18,"n":"I"}]},"mark":{"type":"text","align":"left","baseline":"alphabetic","fontSize":15,"fontWeight":"bold","color":"#111"},"encoding":{"text":{"field":"n"}}},
     {"data":{"values":[{"x":1.173,"y":2.13,"n":"a"},{"x":2.147,"y":2.1,"n":"b"},{"x":3.143,"y":1.83,"n":"b"},{"x":4.176,"y":1.21,"n":"c"}]},"mark":{"type":"text","fontSize":12},"encoding":{"text":{"field":"n"}}}]}]}]}]}]}
